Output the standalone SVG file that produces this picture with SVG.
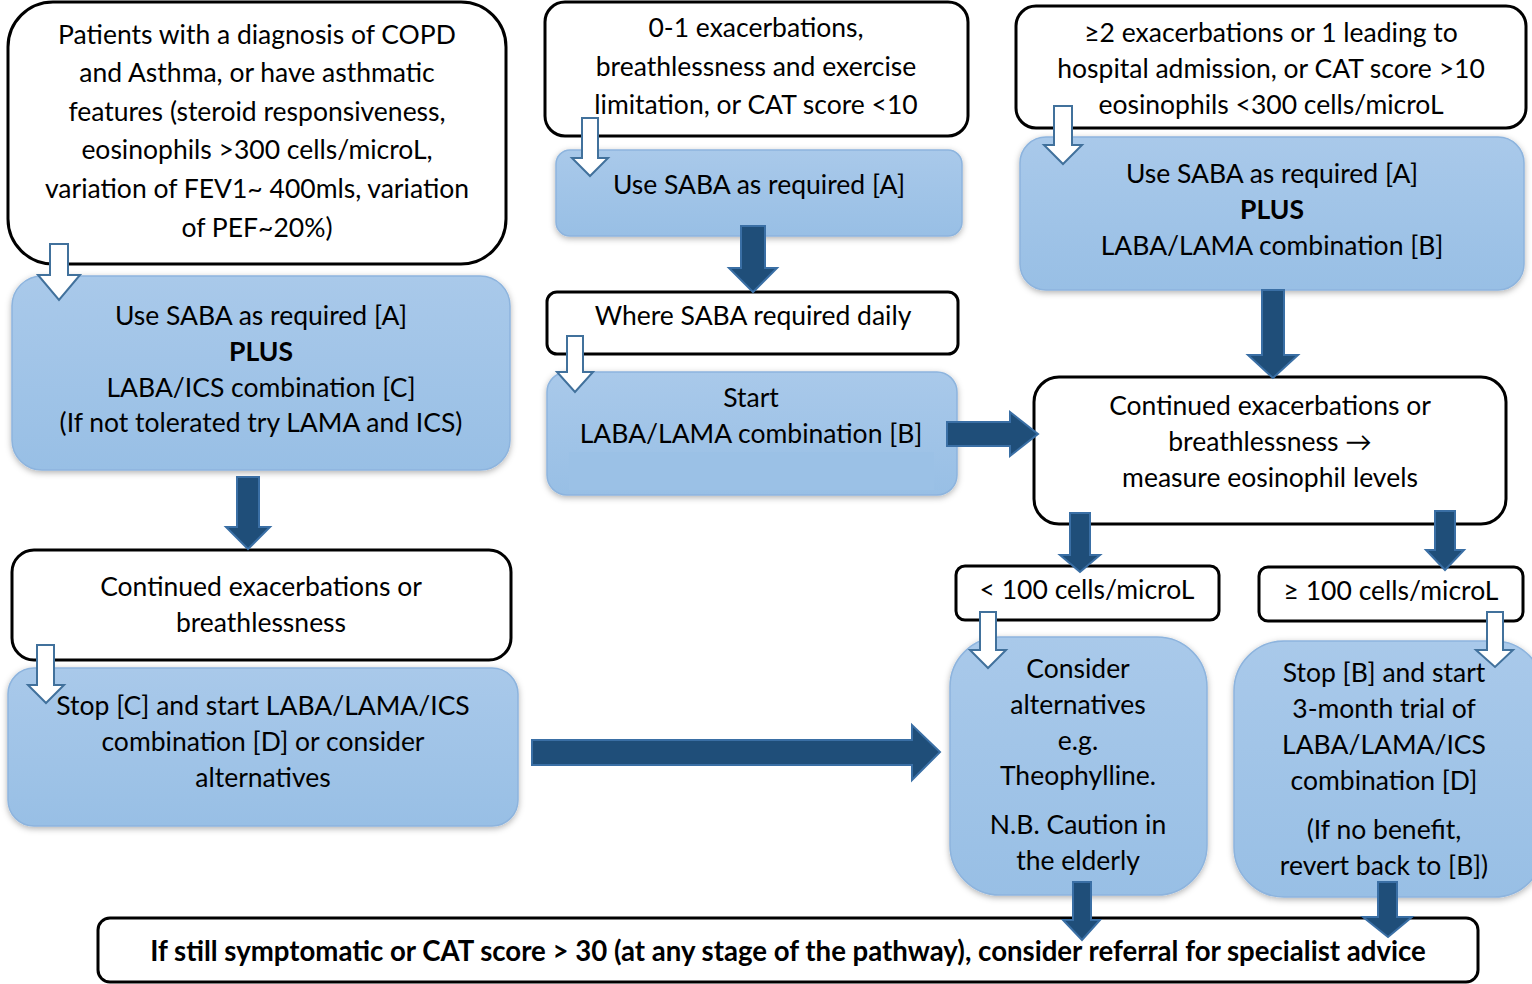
<svg xmlns="http://www.w3.org/2000/svg" width="1532" height="984" viewBox="0 0 1532 984">
<style>
text{font-family:Lato,"Open Sans","Liberation Sans",sans-serif;font-size:26.5px;fill:#000;text-anchor:middle;dominant-baseline:central}
.b{font-weight:bold}
.big{font-size:27.6px}
.w{fill:#fff;stroke:#000;stroke-width:3}
.bl{fill:url(#g);stroke:#8db4de;stroke-width:1.5;filter:url(#sh)}
.wa{fill:#fff;stroke:#41719c;stroke-width:2}
.da{fill:#1f4e79;stroke:#3a6fa5;stroke-width:2}
</style>
<defs>
<linearGradient id="g" x1="0" y1="0" x2="0" y2="1"><stop offset="0" stop-color="#a9c9ea"/><stop offset="1" stop-color="#98bfe5"/></linearGradient>
<filter id="sh" x="-10%" y="-10%" width="120%" height="125%"><feDropShadow dx="0" dy="2" stdDeviation="3" flood-color="#000" flood-opacity="0.3"/></filter>
</defs>
<rect width="1532" height="984" fill="#fff"/>
<g id="n1"><rect class="w" x="8" y="2" width="498" height="262" rx="45"/>
<text x="257" y="34">Patients with a diagnosis of COPD</text><text x="257" y="72">and Asthma, or have asthmatic</text><text x="257" y="111">features (steroid responsiveness,</text><text x="257" y="149">eosinophils &gt;300 cells/microL,</text><text x="257" y="188">variation of FEV1~ 400mls, variation</text><text x="257" y="227">of PEF~20%)</text></g>
<g id="n2"><rect class="bl" x="12" y="276" width="498" height="194" rx="30"/>
<text x="261" y="315">Use SABA as required [A]</text><text class="b" x="261" y="351">PLUS</text><text x="261" y="387">LABA/ICS combination [C]</text><text x="261" y="422">(If not tolerated try LAMA and ICS)</text></g>
<g id="n3"><rect class="w" x="12" y="550" width="499" height="110" rx="22"/>
<text x="261" y="586">Continued exacerbations or</text><text x="261" y="622">breathlessness</text></g>
<g id="n4"><rect class="bl" x="8" y="668" width="510" height="158" rx="26"/>
<text x="263" y="705">Stop [C] and start LABA/LAMA/ICS</text><text x="263" y="741">combination [D] or consider</text><text x="263" y="777">alternatives</text></g>
<g id="n5"><rect class="w" x="545" y="2" width="423" height="134" rx="20"/>
<text x="756" y="27">0-1 exacerbations,</text><text x="756" y="66">breathlessness and exercise</text><text x="756" y="104">limitation, or CAT score &lt;10</text></g>
<g id="n6"><rect class="bl" x="556" y="150" width="406" height="86" rx="14"/>
<text x="759" y="184">Use SABA as required [A]</text></g>
<g id="n7"><rect class="w" x="547" y="292" width="411" height="62" rx="10"/>
<text x="753" y="315">Where SABA required daily</text></g>
<g id="n8"><rect class="bl" x="547" y="372" width="410" height="123" rx="20" stroke="#6a9fd4"/>
<rect x="569" y="452" width="365" height="38" fill="#9bc1e6"/>
<text x="751" y="397">Start</text><text x="751" y="433">LABA/LAMA combination [B]</text></g>
<g id="n9"><rect class="w" x="1016" y="6" width="510" height="122" rx="20"/>
<text x="1271" y="32">≥2 exacerbations or 1 leading to</text><text x="1271" y="68">hospital admission, or CAT score &gt;10</text><text x="1271" y="104">eosinophils &lt;300 cells/microL</text></g>
<g id="n10"><rect class="bl" x="1020" y="137" width="504" height="153" rx="26"/>
<text x="1272" y="173">Use SABA as required [A]</text><text class="b" x="1272" y="209">PLUS</text><text x="1272" y="245">LABA/LAMA combination [B]</text></g>
<g id="n11"><rect class="w" x="1034" y="377" width="472" height="147" rx="25"/>
<text x="1270" y="405">Continued exacerbations or</text><text x="1270" y="441">breathlessness →</text><text x="1270" y="477">measure eosinophil levels</text></g>
<g id="n12"><rect class="w" x="956" y="566" width="263" height="54" rx="9"/>
<text x="1087" y="589">&lt; 100 cells/microL</text></g>
<g id="n13"><rect class="w" x="1259" y="567" width="264" height="54" rx="9"/>
<text x="1391" y="590">≥ 100 cells/microL</text></g>
<g id="n14"><rect class="bl" x="950" y="637" width="257" height="258" rx="50"/>
<text x="1078" y="668">Consider</text><text x="1078" y="704">alternatives</text><text x="1078" y="740">e.g.</text><text x="1078" y="775">Theophylline.</text><text x="1078" y="824">N.B. Caution in</text><text x="1078" y="860">the elderly</text></g>
<g id="n15"><rect class="bl" x="1234" y="641" width="310" height="256" rx="50"/>
<text x="1384" y="672">Stop [B] and start</text><text x="1384" y="708">3-month trial of</text><text x="1384" y="744">LABA/LAMA/ICS</text><text x="1384" y="780">combination [D]</text><text x="1384" y="829">(If no benefit,</text><text x="1384" y="865">revert back to [B])</text></g>
<g id="n16"><rect class="w" x="98" y="918" width="1380" height="64" rx="12"/>
<text class="b big" x="788" y="950">If still symptomatic or CAT score &gt; 30 (at any stage of the pathway), consider referral for specialist advice</text></g>
<g id="connectors">
<path class="wa" d="M50,244H68V275H80L59,300L38,275H50Z"/>
<path class="wa" d="M582,118H598V158H608L590,176L572,158H582Z"/>
<path class="wa" d="M1054,106H1072V145H1082L1063,164L1044,145H1054Z"/>
<path class="wa" d="M567,336H583V372H593L575,392L557,372H567Z"/>
<path class="wa" d="M37,645H54V685H64L46,703L28,685H37Z"/>
<path class="wa" d="M980,612H996V650H1006L988,668L970,650H980Z"/>
<path class="wa" d="M1487,612H1503V650H1513L1495,667L1476,650H1487Z"/>
<path class="da" d="M741,226H765V268H777L753,292L729,268H741Z"/>
<path class="da" d="M1262,290H1284V355H1298L1273,378L1248,355H1262Z"/>
<path class="da" d="M237,477H259V527H270L248,549L226,527H237Z"/>
<path class="da" d="M947,422H1010V412L1038,434L1010,456V446H947Z"/>
<path class="da" d="M532,740H912V725L940,752L912,780V765H532Z"/>
<path class="da" d="M1070,513H1090V555H1100L1080,572L1060,555H1070Z"/>
<path class="da" d="M1435,511H1455V550H1464L1445,570L1426,550H1435Z"/>
<path class="da" d="M1073,882H1091V920H1100L1082,940L1063,920H1073Z"/>
<path class="da" d="M1378,882H1397V917H1412L1388,937L1363,917H1378Z"/>
</g>
</svg>
